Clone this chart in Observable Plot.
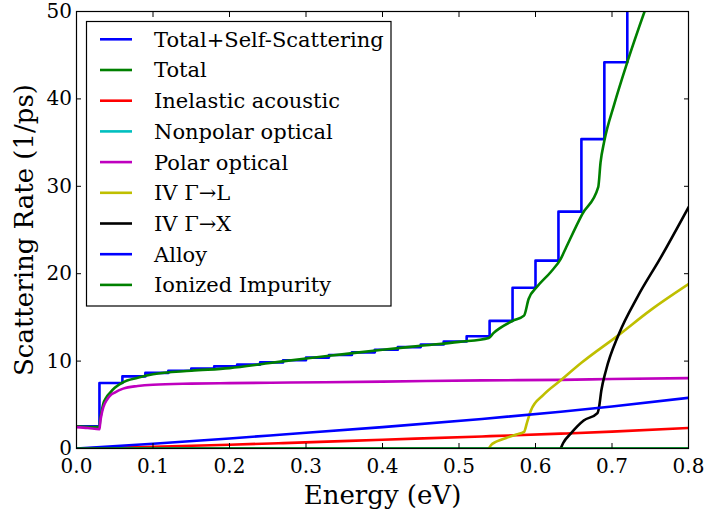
<!DOCTYPE html>
<html>
<head>
<meta charset="utf-8">
<script src="https://cdn.jsdelivr.net/npm/d3@7"></script>
<script src="https://cdn.jsdelivr.net/npm/@observablehq/plot@0.6"></script>
<style>
  body { margin: 0; background: white; }
  #chart { width: 706px; height: 515px; }
  #chart svg, #chart svg text { font-family: "DejaVu Serif", "Liberation Serif", serif; }
</style>
</head>
<body>
<div id="chart"></div>
<script>
// ---- data ----
const xTicks = [0, 0.1, 0.2, 0.3, 0.4, 0.5, 0.6, 0.7, 0.8];
const yTicks = [0, 10, 20, 30, 40, 50];

const selfE = [0, 0.03, 0.06, 0.09, 0.12, 0.15, 0.18, 0.21, 0.24, 0.27, 0.30, 0.33, 0.36, 0.39, 0.42, 0.45, 0.48, 0.51, 0.54, 0.57, 0.60, 0.63, 0.66, 0.69, 0.72, 0.75];
const selfV = [2.55, 7.5, 8.25, 8.65, 8.9, 9.15, 9.4, 9.6, 9.85, 10.1, 10.4, 10.7, 11.0, 11.3, 11.6, 11.9, 12.25, 12.85, 14.6, 18.4, 21.5, 27.1, 35.4, 44.2, 56, 56];

const totalE = [0, 0.03, 0.031, 0.033, 0.035, 0.039, 0.044, 0.05, 0.06, 0.08, 0.1, 0.15, 0.2, 0.25, 0.3, 0.35, 0.4, 0.45, 0.5, 0.539, 0.545, 0.554, 0.57, 0.585, 0.591, 0.602, 0.62, 0.633, 0.64, 0.661, 0.682, 0.685, 0.69, 0.703, 0.72, 0.745, 0.8];
const totalV = [2.55, 2.45, 3.3, 4.3, 5.1, 5.85, 6.4, 6.95, 7.55, 8.1, 8.5, 8.9, 9.2, 9.75, 10.3, 10.8, 11.3, 11.75, 12.2, 12.65, 13.2, 13.8, 14.6, 15.2, 17.1, 18.5, 20.2, 21.7, 23.0, 26.8, 29.9, 32.7, 35.2, 39.4, 44.2, 50.6, 63];

const acousticE = [0, 0.1, 0.2, 0.27, 0.4, 0.53, 0.633, 0.7, 0.8];
const acousticV = [0, 0.2, 0.43, 0.62, 1.0, 1.38, 1.7, 1.93, 2.35];

const nonpolarE = [0, 0.8];
const nonpolarV = [0, 0];

const polarE = [0, 0.015, 0.03, 0.031, 0.033, 0.035, 0.04, 0.044, 0.05, 0.061, 0.08, 0.1, 0.15, 0.2, 0.28, 0.4, 0.53, 0.633, 0.7, 0.8];
const polarV = [2.45, 2.35, 2.2, 3.0, 4.0, 4.7, 5.6, 6.05, 6.4, 6.85, 7.15, 7.3, 7.42, 7.48, 7.55, 7.65, 7.8, 7.85, 7.95, 8.05];

const ivLE = [0.539, 0.542, 0.548, 0.555, 0.565, 0.575, 0.585, 0.589, 0.594, 0.61, 0.633, 0.66, 0.709, 0.75, 0.8];
const ivLV = [0, 0.4, 0.75, 1.0, 1.3, 1.6, 1.9, 3.0, 4.35, 6.1, 7.8, 9.8, 13.0, 15.8, 18.8];

const ivXE = [0.633, 0.636, 0.646, 0.663, 0.681, 0.683, 0.686, 0.692, 0.709, 0.733, 0.764, 0.8];
const ivXV = [0, 0.6, 1.7, 3.2, 4.05, 4.7, 6.6, 8.9, 13.1, 17.3, 21.9, 27.6];

const alloyE = [0, 0.1, 0.2, 0.27, 0.4, 0.53, 0.633, 0.7, 0.8];
const alloyV = [0, 0.55, 1.15, 1.6, 2.45, 3.38, 4.2, 4.8, 5.8];

const impurityE = [0, 0.8];
const impurityV = [0, 0];

const names = ["Total+Self-Scattering", "Total", "Inelastic acoustic", "Nonpolar optical", "Polar optical", "IV \u0393\u2192L", "IV \u0393\u2192X", "Alloy", "Ionized Impurity"];
const colors = ["#0000ff", "#008000", "#ff0000", "#00bfbf", "#bf00bf", "#bfbf00", "#000000", "#0000ff", "#008000"];
const curves = ["step-after", "monotone-x", "monotone-x", "linear", "monotone-x", "monotone-x", "monotone-x", "monotone-x", "linear"];
const energies = [selfE, totalE, acousticE, nonpolarE, polarE, ivLE, ivXE, alloyE, impurityE];
const rates = [selfV, totalV, acousticV, nonpolarV, polarV, ivLV, ivXV, alloyV, impurityV];

// ---- chart ----
const FONT = "'DejaVu Serif', 'Liberation Serif', serif";
const LW = 2.6;

const lineMarks = names.map((n, k) => {
  const rows = energies[k].map((e, i) => ({e, v: rates[k][i]}));
  return Plot.line(rows, {x: "e", y: "v", stroke: colors[k], strokeWidth: LW, curve: curves[k], clip: true});
});

const chart = Plot.plot({
  width: 706,
  height: 515,
  marginLeft: 76,
  marginRight: 18,
  marginTop: 11,
  marginBottom: 67,
  style: {background: "white", color: "black"},
  x: {domain: [0, 0.8]},
  y: {domain: [0, 50]},
  marks: [
    ...lineMarks,
    Plot.axisX({anchor: "bottom", ticks: xTicks, tickSize: -5, tickPadding: 15, tickFormat: d3.format(".1f"), fontSize: 20, fontFamily: FONT, label: null}),
    Plot.axisX({anchor: "top", ticks: xTicks, tickSize: -5, tickFormat: () => "", label: null}),
    Plot.axisY({anchor: "left", ticks: yTicks, tickSize: -5, tickPadding: 9.5, tickFormat: d3.format("d"), fontSize: 20, fontFamily: FONT, label: null}),
    Plot.axisY({anchor: "right", ticks: yTicks, tickSize: -5, tickFormat: () => "", label: null}),
    Plot.frame({stroke: "black", strokeWidth: 1.2}),
    Plot.text(["Energy (eV)"], {frameAnchor: "bottom", textAnchor: "middle", lineAnchor: "middle", dy: 46.7, fontSize: 26, fontFamily: FONT, fill: "black"}),
    Plot.text(["Scattering Rate (1/ps)"], {frameAnchor: "left", textAnchor: "middle", lineAnchor: "middle", rotate: -90, dx: -51.5, fontSize: 26, fontFamily: FONT, fill: "black"})
  ]
});

document.getElementById("chart").appendChild(chart);

// legend inside the axes (upper left)
const svg = d3.select(chart);
const lg = svg.append("g").attr("font-family", FONT).attr("text-anchor", "start");
lg.append("rect")
  .attr("x", 86.5).attr("y", 21.5).attr("width", 304.5).attr("height", 284.5)
  .attr("fill", "white").attr("stroke", "black").attr("stroke-width", 1.2);
names.forEach((n, i) => {
  const cy = 39.3 + i * 30.7;
  lg.append("line").attr("x1", 100).attr("x2", 132).attr("y1", cy).attr("y2", cy)
    .attr("stroke", colors[i]).attr("stroke-width", LW);
  lg.append("text").attr("x", 154).attr("y", cy + 7.4).attr("font-size", 21)
    .attr("fill", "black").attr("text-anchor", "start").style("font-family", FONT).text(n);
});
</script>
</body>
</html>
